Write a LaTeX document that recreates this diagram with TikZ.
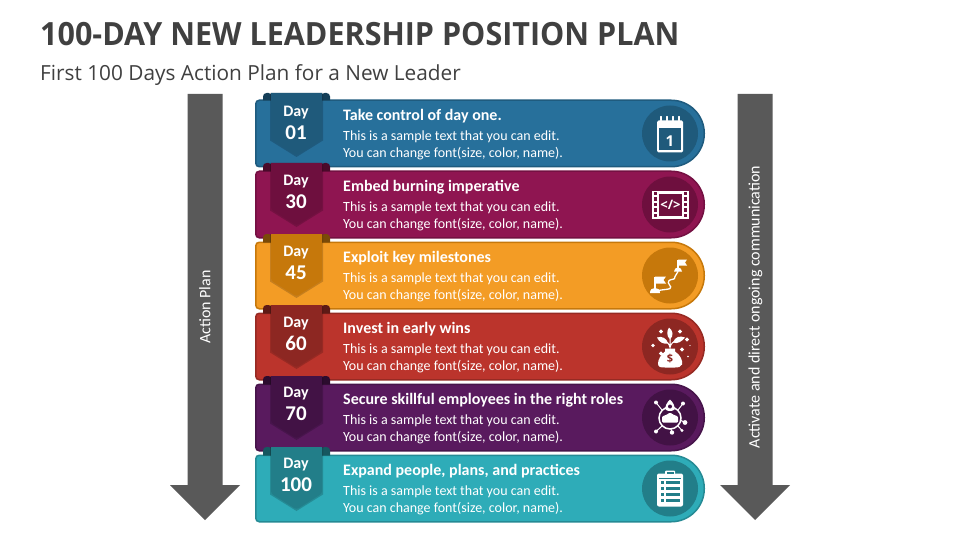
\documentclass[tikz,border=0pt]{standalone}
\usepackage{fontspec}
\setmainfont{Open Sans}
\newfontfamily\bodyf{Carlito}
\newfontfamily\titlef[FakeStretch=0.953]{Open Sans}
\newcommand{\fsz}[1]{\fontsize{#1}{#1}\selectfont}
\tikzset{
  x=1pt,y=-1pt,
  titletxt/.style={anchor=base west,inner sep=0},
  bandhead/.style={anchor=base west,inner sep=0,text=white,font=\bodyf\bfseries\fsz{16}},
  bandline/.style={anchor=base west,inner sep=0,text=white,font=\bodyf\fsz{14}},
  daytxt/.style={anchor=base,inner sep=0,text=white,font=\bodyf\bfseries\fsz{16}},
  numtxt/.style={anchor=base,inner sep=0,text=white,font=\bodyf\bfseries\fsz{21}},
  sidetxt/.style={inner sep=0,text=white,rotate=90,font=\bodyf\fsz{16}},
  garrow/.style={fill=arrowgrey,draw=none},
  ic/.style={fill=white,draw=none},
  icl/.style={draw=white,line width=1.2pt,fill=none,line cap=round},
}
\definecolor{arrowgrey}{HTML}{595959}
\definecolor{titlec}{HTML}{404040}
\definecolor{fa}{HTML}{27709B}\definecolor{ba}{HTML}{1F5B7E}\definecolor{ra}{HTML}{1F5A7B}\definecolor{da}{HTML}{153F58}
\definecolor{fb}{HTML}{8F1551}\definecolor{bb}{HTML}{741042}\definecolor{rb}{HTML}{6E0F3E}\definecolor{db}{HTML}{4A0A2A}
\definecolor{fc}{HTML}{F39C25}\definecolor{bc}{HTML}{C6780B}\definecolor{rc}{HTML}{C6780B}\definecolor{dc}{HTML}{7A4A08}
\definecolor{fd}{HTML}{BB342C}\definecolor{bd}{HTML}{962A23}\definecolor{rd}{HTML}{8D2722}\definecolor{dd}{HTML}{5E1A16}
\definecolor{fe}{HTML}{591A5E}\definecolor{be}{HTML}{46144A}\definecolor{re}{HTML}{421245}\definecolor{de}{HTML}{2C0C2E}
\definecolor{ff}{HTML}{2EACB8}\definecolor{bf}{HTML}{258A94}\definecolor{rf}{HTML}{227E89}\definecolor{df}{HTML}{165860}
% #1 id, #2 colour suffix, #3 top of band, #4 day, #5 heading, #6 ribbon top, #7 baseline shift of the day text
\newcommand{\bandrow}[7]{%
  \draw[fill=f#2,draw=b#2,line width=1.5pt,rounded corners=3.5pt]
    (300,#3+.75) -- (255.75,#3+.75) -- (255.75,#3+67.25) -- (300,#3+67.25)
    [rounded corners=33pt] -- (704.25,#3+67.25) -- (704.25,#3+.75) -- cycle;
  % folds
  \fill[d#2,rounded corners=3.5pt] (272,#3+1) [sharp corners] -- (263,#3+1) [rounded corners=3.5pt] -- (263,#6) -- (272,#6) [sharp corners] -- cycle;
  \fill[d#2,rounded corners=3.5pt] (321,#3+1) [sharp corners] -- (330,#3+1) [rounded corners=3.5pt] -- (330,#6) -- (321,#6) [sharp corners] -- cycle;
  % ribbon shadow + ribbon
  \fill[black,opacity=.18] (270,#6) -- (323,#6) -- (323,#6+47.5) -- (296.5,#6+64) -- (270,#6+47.5) -- cycle;
  \fill[r#2,rounded corners=2.5pt] (271,#6+3) -- (271,#6+46.5) -- (296.5,#6+62.5) -- (322,#6+46.5) -- (322,#6+3) [sharp corners] -- (322,#6) -- (271,#6) -- cycle;
  \node[daytxt] (day#1) at (296,#3+17+#7) {Day};
  \node[numtxt] (num#1) at (296,#3+40+#7) {#4};
  \node[bandhead] (head#1) at (343,#3+21.2) {#5};
  \node[bandline] (lineA#1) at (343,#3+41.2) {This is a sample text that you can edit.};
  \node[bandline] (lineB#1) at (343,#3+58.2) {You can change font(size, color, name).};
  \node[circle,fill=r#2,minimum size=56pt,inner sep=0] (disc#1) at (670,#3+34) {};
}
\begin{document}
\begin{tikzpicture}
\useasboundingbox (0,0) rectangle (960,540);
\fill[white] (0,0) rectangle (960,540);
\node[titletxt,text=titlec,font=\titlef\bfseries\fsz{32}] (title) at (40,46) {100-DAY NEW LEADERSHIP POSITION PLAN};
\node[titletxt,text=titlec,font=\fsz{20.8}] (subtitle) at (40,81) {First 100 Days Action Plan for a New Leader};
% side arrows
\fill[garrow] (187.5,94) -- (222.5,94) -- (222.5,485) -- (240,485) -- (205,520) -- (170,485) -- (187.5,485) -- cycle;
\fill[garrow] (737.5,94) -- (772.5,94) -- (772.5,485) -- (790,485) -- (755,520) -- (720,485) -- (737.5,485) -- cycle;
\node[sidetxt] (leftlabel) at (205,307) {Action Plan};
\node[sidetxt] (rightlabel) at (755.5,307) {Activate and direct ongoing communication};
\bandrow{1}{a}{99.5}{01}{Take control of day one.}{93}{0}
\bandrow{2}{b}{170.5}{30}{Embed burning imperative}{163}{-2}
\bandrow{3}{c}{241.5}{45}{Exploit key milestones}{234}{-2}
\bandrow{4}{d}{312.5}{60}{Invest in early wins}{305}{-2}
\bandrow{5}{e}{383.5}{70}{Secure skillful employees in the right roles}{376}{-3}
\bandrow{6}{f}{454.5}{100}{Expand people, plans, and practices}{447}{-3}
% calendar
\begin{scope}[shift={(670,133.5)}]
  \fill[ic,rounded corners=1.5pt] (-13,-13) rectangle (13,19);
  \fill[ra] (-11,-5) rectangle (11,17);
  \foreach \i in {-9,-3,3,9} {\draw[white,line width=1.3pt,line cap=round] (\i,-17) -- (\i,-13);}
  \node[inner sep=0,text=white,font=\bfseries\fsz{15}] (calone) at (0,7.5) {1};
\end{scope}
% film
\begin{scope}[shift={(670,204.5)}]
  \fill[ic] (-18,-14) rectangle (19,14);
  \fill[rb] (-11,-11) rectangle (12,11);
  \foreach \j in {-11,-5.5,0,5.5,11} {\fill[rb] (-16,\j-1.6) rectangle (-13,\j+1.6); \fill[rb] (14,\j-1.6) rectangle (17,\j+1.6);}
  \node[inner sep=0,text=white,font=\bfseries\fsz{13}] (filmcode) at (.5,0) {</>};
\end{scope}
% flags
\begin{scope}[shift={(670,275.5)}]
  \draw[white,line width=1.6pt] (-15,16) -- (-15,1);
  \fill[ic] (-15,1) -- (-4,1) -- (-6.5,4.5) -- (-4,8) -- (-15,8) -- cycle;
  \fill[ic] (-20,17.5) .. controls (-20,14) and (-18,12.5) .. (-15,12.5) .. controls (-12,12.5) and (-10,14) .. (-10,17.5) -- cycle;
  \draw[icl,line width=1.3pt] (-12,15) .. controls (-6,14) and (-2,14) .. (0,13) .. controls (3,11) and (-4,8) .. (-1,5) .. controls (2,3) and (5,5) .. (5,1) .. controls (5,-2) and (8,-1) .. (8,-4);
  \draw[white,line width=1.3pt] (8,-5) -- (8,-16);
  \fill[ic] (8,-16) -- (17,-16) -- (15,-13) -- (17,-10) -- (8,-10) -- cycle;
  \fill[ic] (4,-4) .. controls (4,-6.5) and (6,-8) .. (8,-8) .. controls (10,-8) and (12,-6.5) .. (12,-4) -- cycle;
\end{scope}
% money plant
\begin{scope}[shift={(670,346.5)}]
  \fill[ic] (-5,2) -- (5,2) -- (5,5) .. controls (10,8) and (13,14) .. (12,18) .. controls (11,21) and (8,21) .. (5,21) -- (-5,21) .. controls (-9,21) and (-12,21) .. (-12,17) .. controls (-12,13) and (-9,8) .. (-5,5) -- cycle;
  \node[inner sep=0,text=rd,font=\bfseries\fsz{11}] (bagsign) at (0,12.5) {\$};
  \draw[white,line width=1pt] (0,2) -- (0,-8) (0,1) .. controls (-1,-3) and (-3,-5) .. (-6,-6) (0,1) .. controls (1,-3) and (3,-5) .. (7,-6);
  \fill[ic] (0,-7) .. controls (-4,-11) and (-3,-16) .. (-1,-19) .. controls (3,-16) and (4,-11) .. (0,-7) -- cycle;
  \fill[ic] (-2,-3) .. controls (-6,-2) and (-11,-4) .. (-13,-9) .. controls (-8,-11) and (-3,-8) .. (-2,-3) -- cycle;
  \fill[ic] (3,-4) .. controls (7,-2) and (12,-5) .. (15,-9) .. controls (10,-11) and (5,-10) .. (3,-4) -- cycle;
  \foreach \px/\py/\rr in {-9/-15/2.2,10/-15/2.2,17/-7/2.2,-17/-1/1.8,-9/7/2.2,12/3/2.2,18/10/.9,20/-1/.7} {
    \fill[ic] (\px-\rr,\py) -- (\px,\py-\rr) -- (\px+\rr,\py) -- (\px,\py+\rr) -- cycle;}
\end{scope}
% network
\begin{scope}[shift={(670,417.5)}]
  \draw[white,line width=1.5pt] (0,.5) circle[radius=11pt];
  \draw[white,line width=1pt] (-8,-7.5) -- (-14,-15) (8,-7.5) -- (13,-14) (11,3) -- (15,5) (8,8.5) -- (12,13) (1,11.5) -- (2,15) (-8,8.5) -- (-14,14);
  \fill[ic] (-14,-15) circle[radius=2pt] (13,-14) circle[radius=2pt] (15,5) circle[radius=2.4pt] (12,13) circle[radius=1.6pt] (2,15) circle[radius=2.2pt] (-14,14) circle[radius=2pt];
  \fill[ic] (-4.5,-8) .. controls (-5,-12) and (-3,-15) .. (0,-18) .. controls (3,-15) and (5,-12) .. (4.5,-8) .. controls (3,-6) and (-3,-6) .. (-4.5,-8) -- cycle;
  \fill[re] (0,-11) circle[radius=2pt];
  \fill[ic,rounded corners=1pt] (-8,-1) -- (-3,-3) -- (0,-5) -- (3,-3) -- (8,-1) -- (8,5) -- (-8,5) -- cycle;
\end{scope}
% clipboard
\begin{scope}[shift={(670,488.5)}]
  \fill[ic,rounded corners=2pt] (-13,-15) rectangle (13,18);
  \fill[ic,rounded corners=1pt] (-5,-18) rectangle (5,-13);
  \fill[rf] (-3.5,-16.5) rectangle (3.5,-14.5);
  \fill[rf] (-11,-11) rectangle (11,-10);
  \foreach \j in {-6,0,6,12} {
    \fill[rf] (-9.5,\j-1.8) rectangle (-6,\j+1.8);
    \fill[rf] (-4,\j-1.2) rectangle (10,\j+1.2);}
\end{scope}
\end{tikzpicture}
\end{document}
